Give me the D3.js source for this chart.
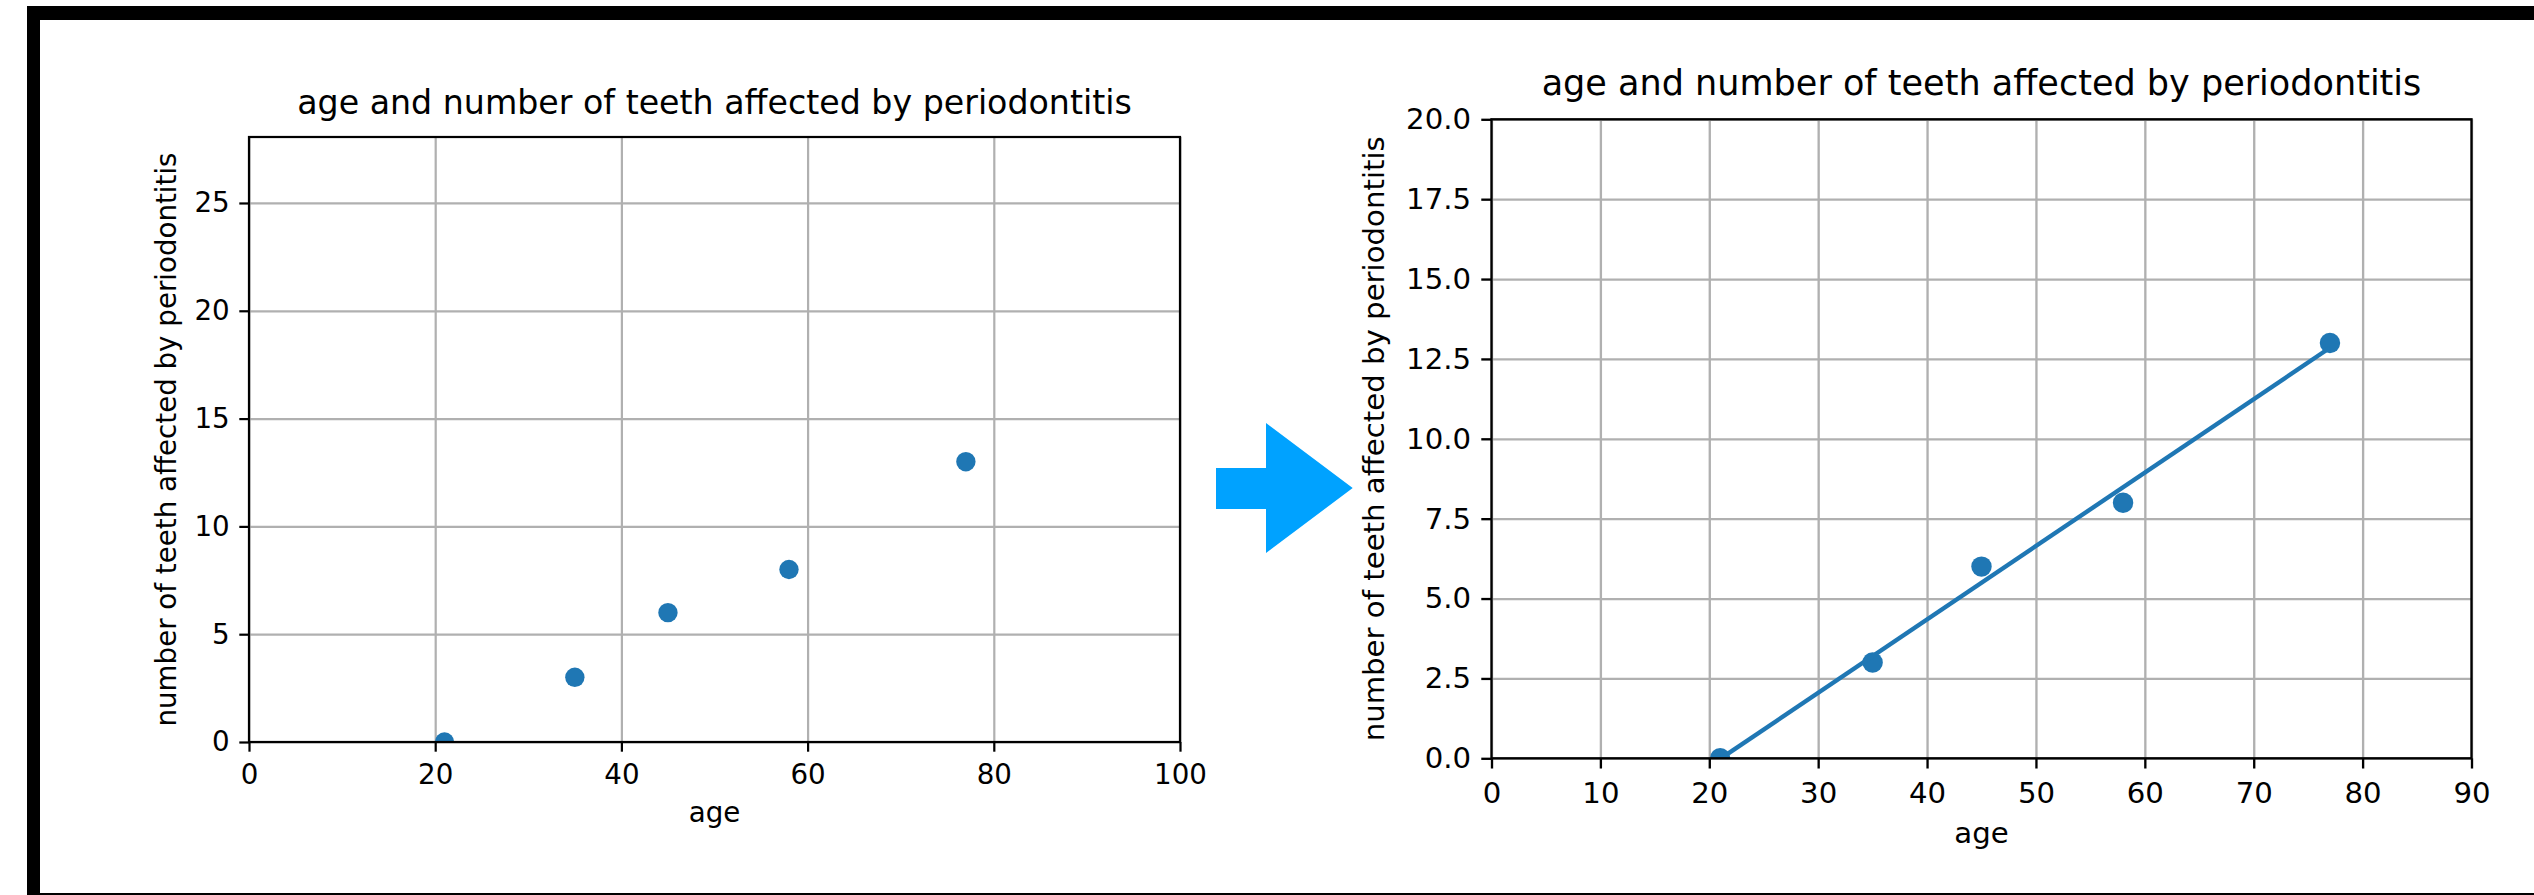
<!DOCTYPE html>
<html>
<head>
<meta charset="utf-8">
<script src="https://cdn.jsdelivr.net/npm/d3@7"></script>
<style>
  html, body { margin: 0; padding: 0; background: #fff; }
  svg { display: block; font-family: "DejaVu Sans", sans-serif; }
</style>
</head>
<body>
<svg id="chart" width="2534" height="895"></svg>
<script>
// ---- data ----
const ages = [21, 35, 45, 58, 77];
const teeth = [0, 3, 6, 8, 13];
const fitAges = [21, 77];
const fitTeeth = [-0.02, 12.85];
const titleText = "age and number of teeth affected by periodontitis";
const xLabelText = "age";
const yLabelText = "number of teeth affected by periodontitis";
const leftXTicks = [0, 20, 40, 60, 80, 100];
const leftYTicks = [0, 5, 10, 15, 20, 25];
const rightXTicks = [0, 10, 20, 30, 40, 50, 60, 70, 80, 90];
const rightYTicks = [0, 2.5, 5, 7.5, 10, 12.5, 15, 17.5, 20];

const svg = d3.select("#chart");

// frame border
svg.append("rect").attr("x", 27).attr("y", 6).attr("width", 2534 - 27).attr("height", 895 - 6).attr("fill", "#000");
svg.append("rect").attr("x", 40).attr("y", 20).attr("width", 2534 - 40).attr("height", 893 - 20).attr("fill", "#fff");

function panel(cfg) {
  const s = cfg.s;
  const x = d3.scaleLinear().domain(cfg.xDomain).range([cfg.left, cfg.right]);
  const y = d3.scaleLinear().domain(cfg.yDomain).range([cfg.bottom, cfg.top]);
  const w = cfg.right - cfg.left, h = cfg.bottom - cfg.top;
  const g = svg.append("g");
  const lw = 0.8 * s, tick = 3.5 * s, pad = 3.5 * s, fs = 10 * s;
  const clipId = cfg.id + "-clip";
  svg.append("defs").append("clipPath").attr("id", clipId)
    .append("rect").attr("x", cfg.left).attr("y", cfg.top).attr("width", w).attr("height", h);

  // grid
  const gx = g.append("g").attr("transform", `translate(0,${cfg.bottom})`)
    .call(d3.axisBottom(x).tickValues(cfg.xTicks).tickSize(-h).tickFormat(""));
  const gy = g.append("g").attr("transform", `translate(${cfg.left},0)`)
    .call(d3.axisLeft(y).tickValues(cfg.yTicks).tickSize(-w).tickFormat(""));
  [gx, gy].forEach(a => {
    a.select(".domain").remove();
    a.selectAll("line").attr("stroke", "#b0b0b0").attr("stroke-width", lw);
  });

  // data
  const dg = g.append("g").attr("clip-path", `url(#${clipId})`);
  dg.selectAll("circle").data(ages).join("circle")
    .attr("cx", (d) => x(d))
    .attr("cy", (d, i) => y(teeth[i]))
    .attr("r", 3.5 * s)
    .attr("fill", "#1f77b4");
  if (cfg.fit) {
    const line = d3.line().x(d => x(d[0])).y(d => y(d[1]));
    dg.append("path").datum(fitAges.map((a, i) => [a, fitTeeth[i]]))
      .attr("d", line).attr("fill", "none").attr("stroke", "#1f77b4")
      .attr("stroke-width", 1.5 * s);
  }

  // axes
  const ax = g.append("g").attr("transform", `translate(0,${cfg.bottom})`)
    .call(d3.axisBottom(x).tickValues(cfg.xTicks).tickSize(tick).tickPadding(pad).tickFormat(cfg.xFmt));
  const ay = g.append("g").attr("transform", `translate(${cfg.left},0)`)
    .call(d3.axisLeft(y).tickValues(cfg.yTicks).tickSize(tick).tickPadding(pad).tickFormat(cfg.yFmt));
  [ax, ay].forEach(a => {
    a.select(".domain").remove();
    a.selectAll("line").attr("stroke", "#000").attr("stroke-width", lw);
    a.selectAll("text").attr("font-size", fs).attr("fill", "#000").attr("font-family", "DejaVu Sans");
  });
  ax.selectAll("text").attr("dy", "0.82em");

  // spines
  g.append("rect").attr("x", cfg.left).attr("y", cfg.top).attr("width", w).attr("height", h)
    .attr("fill", "none").attr("stroke", "#000").attr("stroke-width", lw);

  // title & labels
  g.append("text").attr("x", (cfg.left + cfg.right) / 2).attr("y", cfg.top - 6 * s - 0.24 * 12 * s + 2)
    .attr("text-anchor", "middle").attr("font-size", 12 * s).attr("fill", "#000").text(titleText);
  g.append("text").attr("x", (cfg.left + cfg.right) / 2).attr("y", cfg.xLabelY)
    .attr("text-anchor", "middle").attr("font-size", fs).attr("fill", "#000").text(xLabelText);
  g.append("text").attr("transform", `translate(${cfg.yLabelX},${(cfg.top + cfg.bottom) / 2}) rotate(-90)`)
    .attr("text-anchor", "middle").attr("font-size", fs).attr("fill", "#000").text(yLabelText);
}

panel({
  id: "left", s: 2.77,
  left: 249, right: 1180, top: 137, bottom: 742,
  xDomain: [0, 100], yDomain: [0, 28.06],
  xTicks: leftXTicks, yTicks: leftYTicks,
  xFmt: d3.format("d"), yFmt: d3.format("d"),
  xLabelY: 822, yLabelX: 176, fit: false
});

panel({
  id: "right", s: 2.92,
  left: 1491.5, right: 2471.5, top: 119.3, bottom: 758.3,
  xDomain: [0, 90], yDomain: [0, 20],
  xTicks: rightXTicks, yTicks: rightYTicks,
  xFmt: d3.format("d"), yFmt: d3.format(".1f"),
  xLabelY: 843, yLabelX: 1384, fit: true
});

// blue arrow
svg.append("polygon")
  .attr("points", [[1216, 468], [1266, 468], [1266, 423], [1352.7, 488], [1266, 553], [1266, 509], [1216, 509]].map(p => p.join(",")).join(" "))
  .attr("fill", "#00a2ff");
</script>
</body>
</html>
